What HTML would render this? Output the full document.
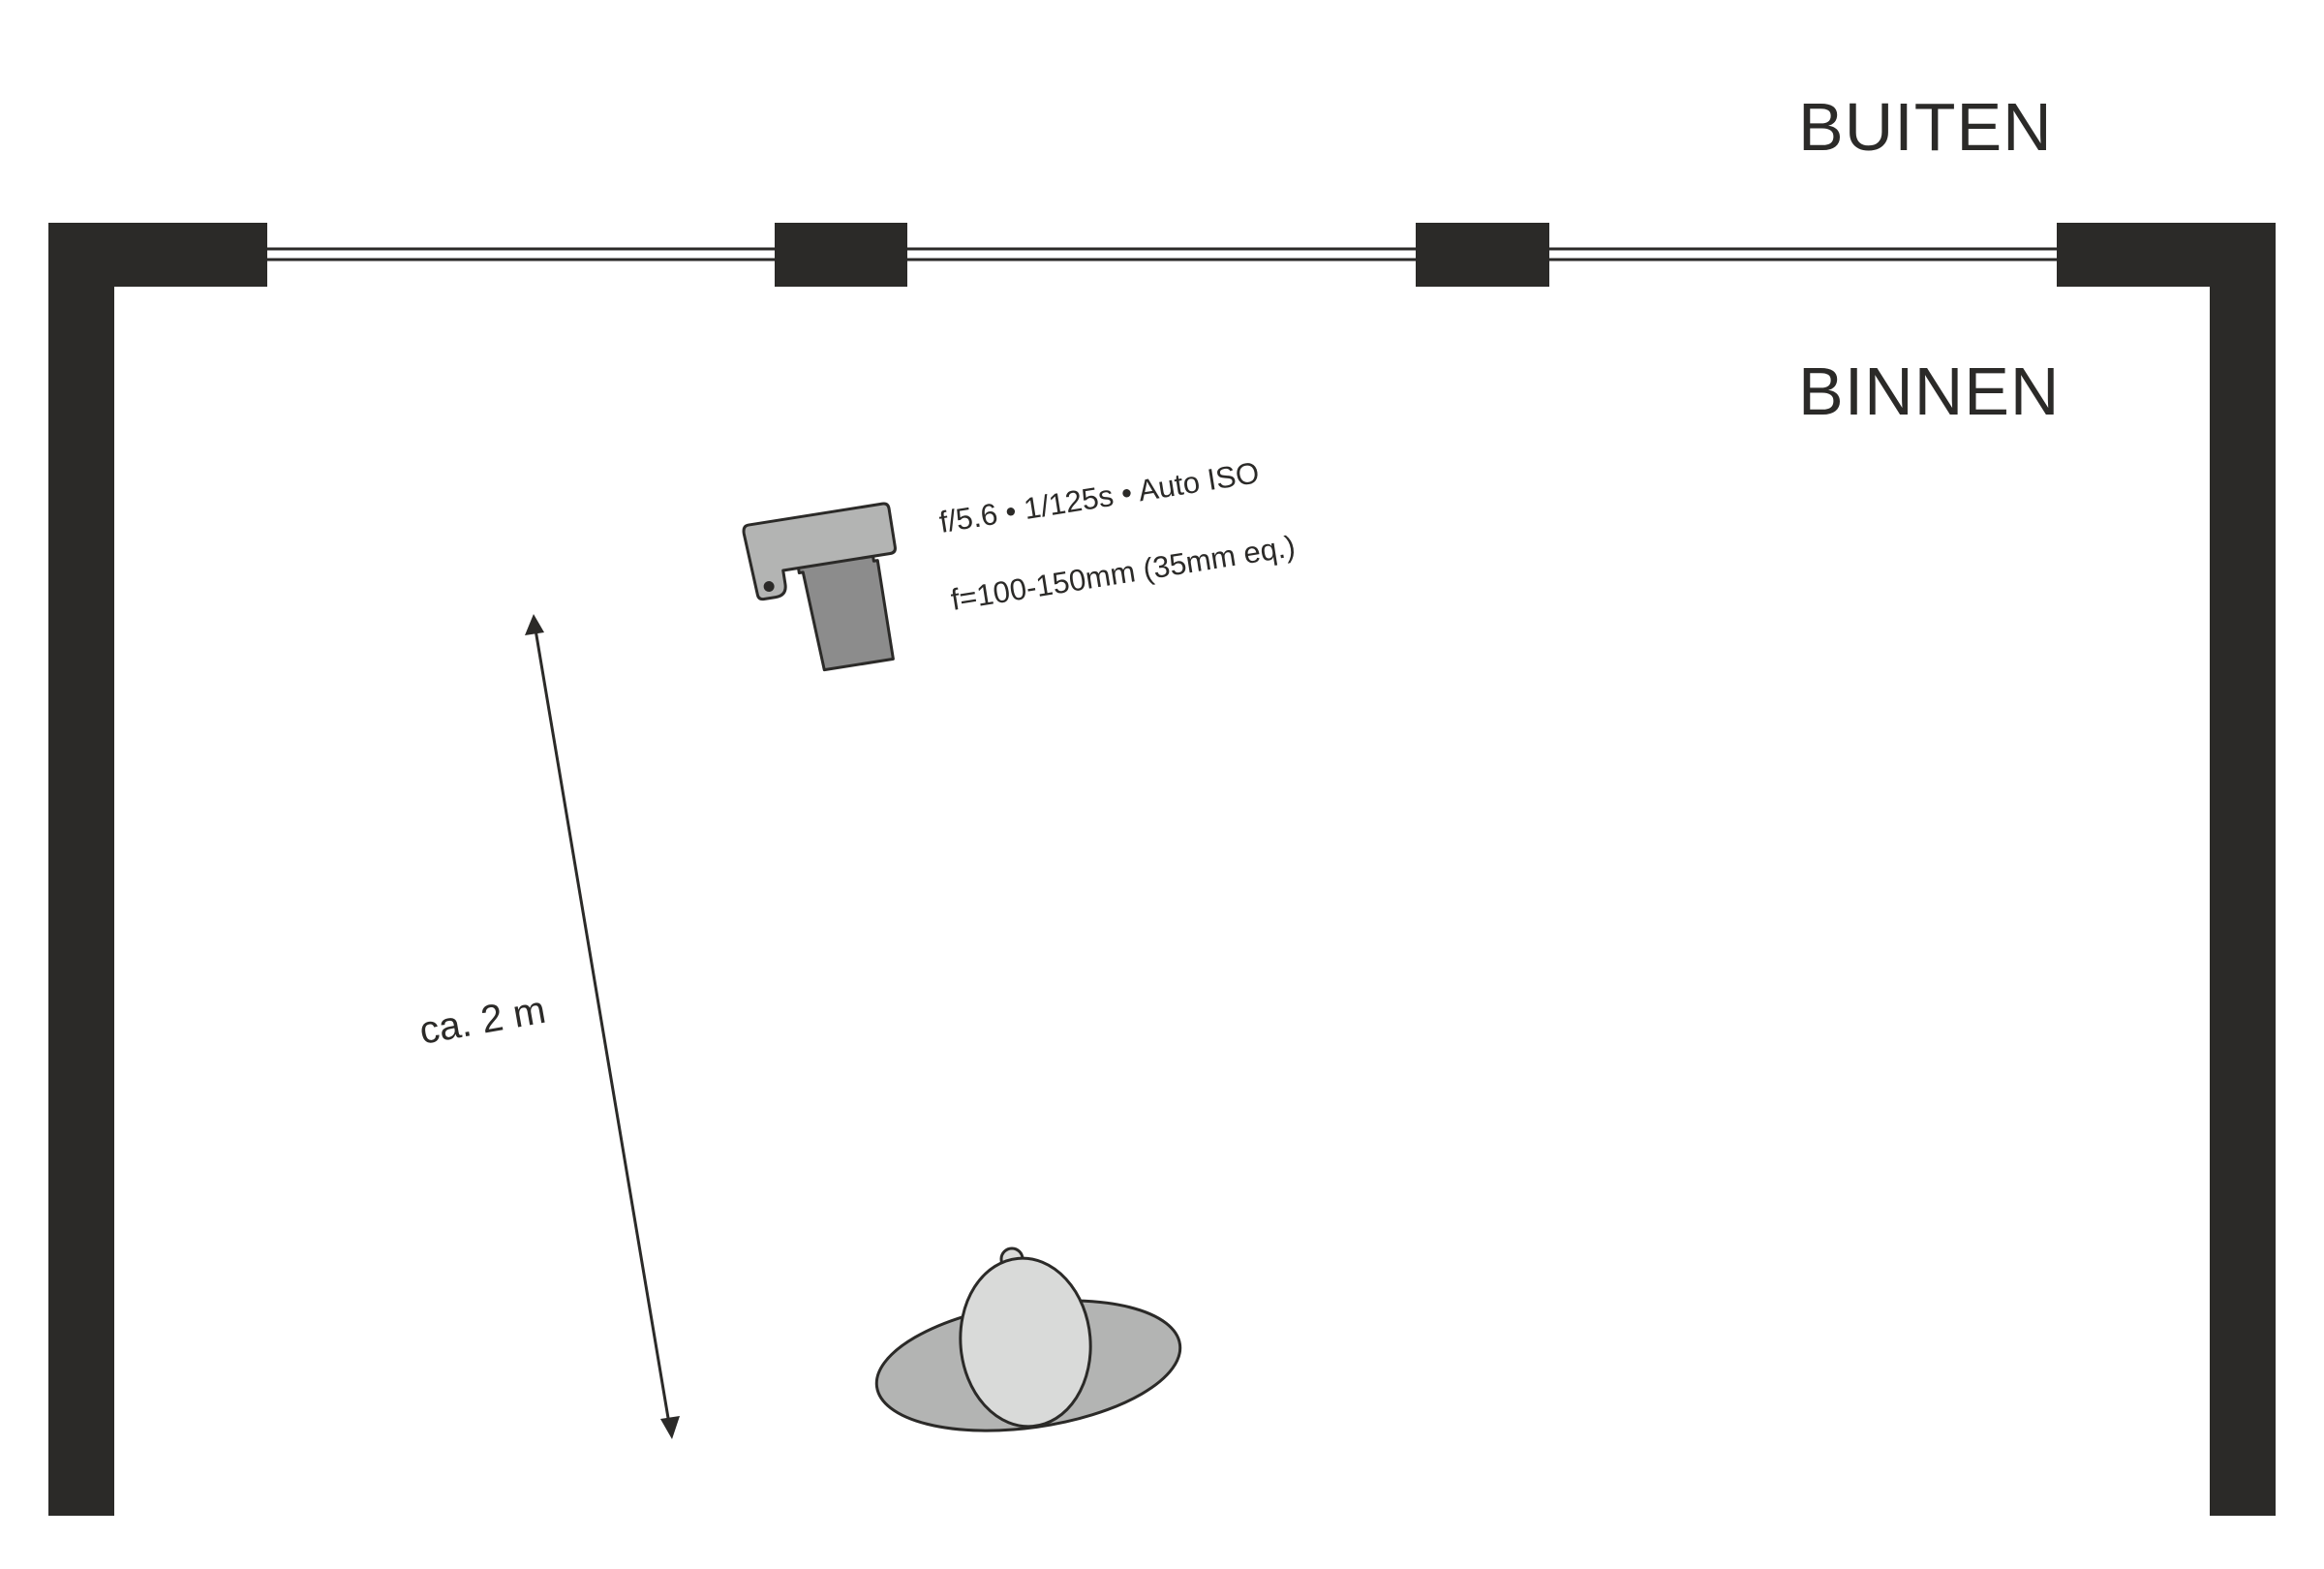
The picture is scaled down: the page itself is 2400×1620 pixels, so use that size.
<!DOCTYPE html>
<html><head><meta charset="utf-8"><style>
html,body{margin:0;padding:0;background:#fff;}
svg{display:block;}
text{font-family:"Liberation Sans",sans-serif;fill:#2b2a28;}
</style></head><body>
<svg width="2400" height="1620" viewBox="0 0 2400 1620" xmlns="http://www.w3.org/2000/svg">
<g stroke="#2b2a28" stroke-width="3">
<line x1="276" y1="257" x2="2124" y2="257"/>
<line x1="276" y1="268" x2="2124" y2="268"/>
</g>
<g fill="#2b2a28">
<rect x="50" y="230" width="226" height="66"/>
<rect x="50" y="230" width="68" height="1335"/>
<rect x="800" y="230" width="137" height="66"/>
<rect x="1462" y="230" width="138" height="66"/>
<rect x="2124" y="230" width="226" height="66"/>
<rect x="2282" y="230" width="68" height="1335"/>
</g>
<text x="1857" y="155" font-size="70" letter-spacing="1">BUITEN</text>
<text x="1857" y="428" font-size="70" letter-spacing="1">BINNEN</text>
<g transform="translate(767,543) rotate(-9)" stroke="#2b2a28" stroke-width="3" stroke-linejoin="round">
<path d="M50,50 L50,57 L54,57 L60,160 L132,160 L132,57 L128,57 L128,50 Z" fill="#8c8c8c"/>
<path d="M6,0 L146,0 Q152,0 152,6 L152,46 Q152,52 146,52 L34,52 L34,66 Q34,78 22,78 L10,78 Q4,78 4,72 L0,8 Q0,0 6,0 Z" fill="#b3b4b3"/>
<circle cx="17" cy="66" r="5.5" fill="#2b2a28" stroke="none"/>
</g>
<text transform="translate(972,550) rotate(-9)" font-size="31">f/5.6 • 1/125s • Auto ISO</text>
<text transform="translate(984,630) rotate(-9)" font-size="31">f=100-150mm (35mm eq.)</text>
<line x1="553" y1="650" x2="691" y2="1470" stroke="#2b2a28" stroke-width="3"/>
<polygon points="551,634 542,656 562,653" fill="#2b2a28"/>
<polygon points="694,1486 682,1465 702,1462" fill="#2b2a28"/>
<text transform="translate(436,1078) rotate(-10)" font-size="40">ca. 2 m</text>
<ellipse cx="1062" cy="1410" rx="158" ry="64" transform="rotate(-8 1062 1410)" fill="#b3b4b3" stroke="#2b2a28" stroke-width="3"/>
<circle cx="1045" cy="1300" r="11" fill="#d9dad9" stroke="#2b2a28" stroke-width="3"/>
<ellipse cx="1059" cy="1386" rx="67" ry="87" transform="rotate(-5 1059 1386)" fill="#d9dad9" stroke="#2b2a28" stroke-width="3"/>
</svg>
</body></html>
